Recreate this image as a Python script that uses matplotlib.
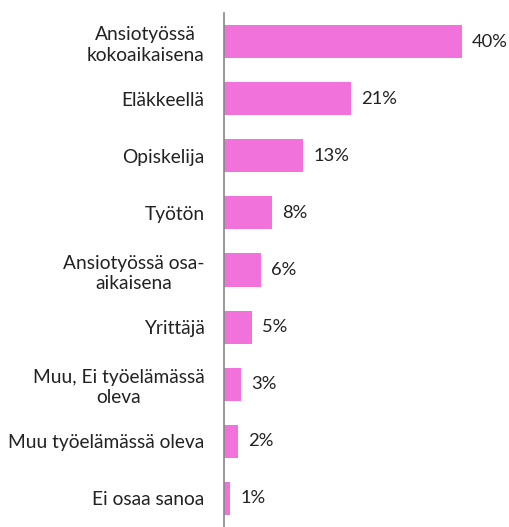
import matplotlib
matplotlib.use("Agg")
import matplotlib.pyplot as plt

categories = ["Ansiotyössä\nkokoaikaisena", "Eläkkeellä", "Opiskelija", "Työtön",
              "Ansiotyössä osa-\naikaisena", "Yrittäjä", "Muu, Ei työelämässä\noleva",
              "Muu työelämässä oleva", "Ei osaa sanoa"]
values = [40.0, 21.4, 13.3, 8.1, 6.2, 4.7, 2.9, 2.4, 1.0]
labels = ["40%", "21%", "13%", "8%", "6%", "5%", "3%", "2%", "1%"]

plt.rcParams['font.family'] = ['Lato', 'DejaVu Sans']

W, H = 510, 527
fig = plt.figure(figsize=(W/100, H/100), dpi=100)
ax = fig.add_axes([224/W, 0, (509-224)/W, (527-13)/H])

y = list(range(len(categories)))
ax.barh(y, values, height=0.58, color="#F272DC")
for yi, v, lab in zip(y, values, labels):
    ax.text(v + 1.7, yi, lab, va="center", ha="left", fontsize=13.2, color="#222222")

ax.set_yticks(y)
ax.set_yticklabels(categories, fontsize=13.8, color="#222222", linespacing=1.25,
                   multialignment="center")
ax.tick_params(axis="y", length=0, pad=14)
ax.set_ylim(len(categories) - 0.5, -0.5)
ax.set_xlim(0, 47.9)
ax.set_xticks([])
for s in ["top", "right", "bottom"]:
    ax.spines[s].set_visible(False)
ax.spines["left"].set_color("#888888")
ax.spines["left"].set_linewidth(1.2)

fig.savefig("out.png", dpi=100)
